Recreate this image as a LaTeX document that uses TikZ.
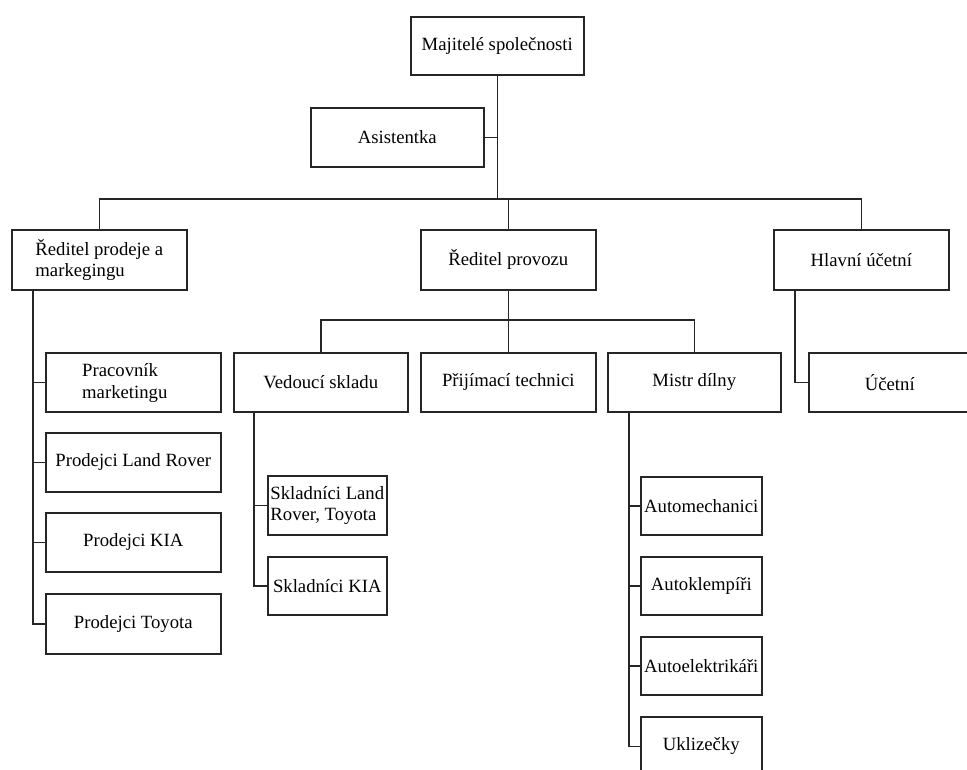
\documentclass[tikz,border=0pt]{standalone}
\usepackage{fontspec}
\setmainfont{Liberation Serif}
\begin{document}
\begin{tikzpicture}[x=1pt,y=-1pt,
  ln/.style={draw=black!85, line width=1.6pt},
  box/.style={draw=black!85, line width=1.6pt, inner sep=0pt, anchor=north west,
    align=left, font=\fontsize{18.7}{21.5}\selectfont, text=black},
  sz/.style 2 args={minimum width=#1pt, minimum height=#2pt},
  txt/.style={inner sep=0pt, align=left, font=\fontsize{18.7}{21.5}\selectfont, text=black}]
\useasboundingbox (0,0) rectangle (967,769);
\clip (0,0) rectangle (967,769);
\fill[white] (0,0) rectangle (967,769);

% top levels
\node[box, sz={173}{58}] (maj) at (410,16) {Majitelé společnosti};
\node[box, sz={173}{59}] (asis) at (310,107) {Asistentka};
\node[box, sz={175}{60}] (rpd) at (11,229) {Ředitel prodeje a\\markegingu};
\node[box, sz={175}{60}] (rpv) at (420,229) {Ředitel provozu};
\node[box, sz={175}{60}] (hu) at (773,229) {Hlavní účetní};

% sales column
\node[box, sz={175}{59}] (pm) at (45,352) {};
\node[txt, anchor=west] (pmt) at (82,383) {Pracovník\\marketingu};
\node[box, sz={175}{59}] (plr) at (45,432) {Prodejci Land Rover};
\node[box, sz={175}{59}] (pk) at (45,512) {Prodejci KIA};
\node[box, sz={175}{60}] (pt) at (45,593) {Prodejci Toyota};

% operations
\node[box, sz={174}{59}] (vs) at (233,352) {Vedoucí skladu};
\node[box, sz={175}{59}] (prt) at (420,352) {Přijímací technici};
\node[box, sz={173}{59}] (md) at (607,352) {Mistr dílny};
\node[box, sz={119}{59}] (slr) at (267,475) {Skladníci Land\\Rover, Toyota};
\node[box, sz={119}{58}] (sk) at (267,556) {Skladníci KIA};
\node[box, sz={121}{58}] (am) at (640,476) {Automechanici};
\node[box, sz={121}{58}] (ak) at (640,556) {Autoklempíři};
\node[box, sz={121}{58}] (ae) at (640,636) {Autoelektrikáři};
\node[box, sz={121}{59}] (uk) at (640,716) {Uklizečky};

% accounting
\node[box, sz={162}{59}] (uc) at (808,352) {Účetní};

% junction coordinates
\coordinate (bus) at (0,199);
\coordinate (bus2) at (0,320);

% connectors
\draw[ln] (maj.south) -- (maj.south |- bus);
\draw[ln] (asis.east) -- (asis.east -| maj.south);
\draw[ln] (rpd.north) -- (rpd.north |- bus) -- (hu.north |- bus) -- (hu.north);
\draw[ln] (rpv.north) -- (rpv.north |- bus);

\draw[ln] (rpv.south) -- (prt.north);
\draw[ln] (vs.north) -- (vs.north |- bus2) -- (md.north |- bus2) -- (md.north);

\foreach \c in {pm,plr,pk,pt}
  \draw[ln] ([xshift=22pt]rpd.south west) |- (\c.west);
\foreach \c in {slr,sk}
  \draw[ln] ([xshift=21pt]vs.south west) |- (\c.west);
\foreach \c in {am,ak,ae,uk}
  \draw[ln] ([xshift=22pt]md.south west) |- (\c.west);
\draw[ln] ([xshift=22pt]hu.south west) |- (uc.west);
\end{tikzpicture}
\end{document}
